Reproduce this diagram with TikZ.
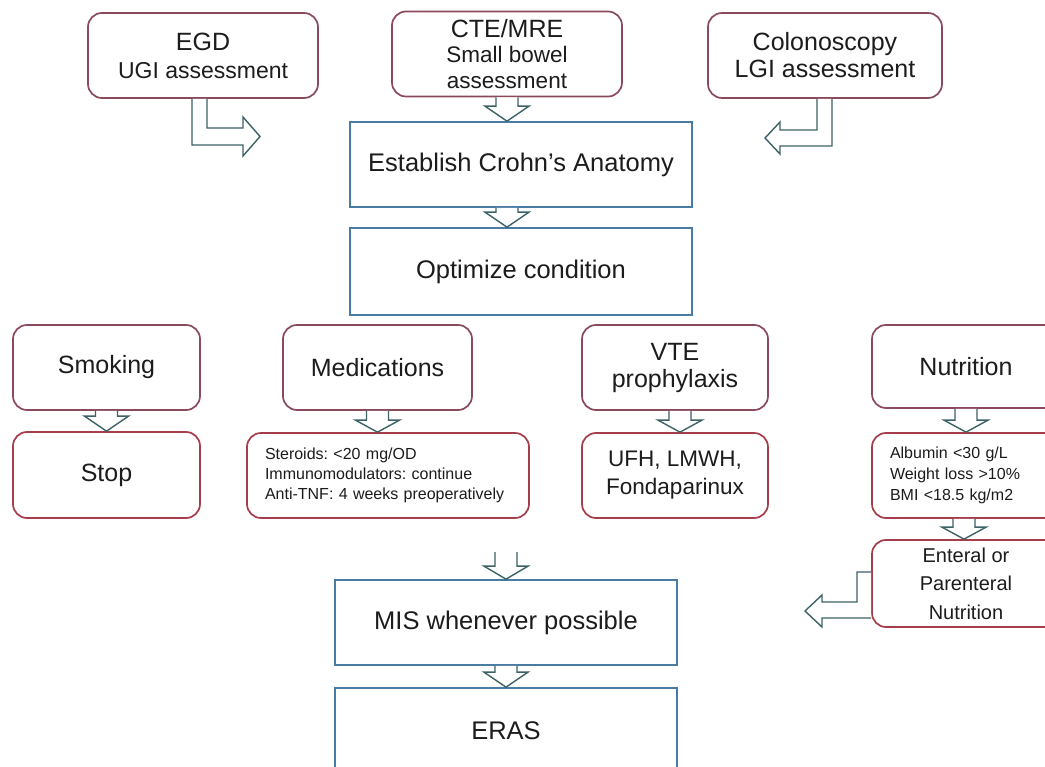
\documentclass[tikz,border=0pt]{standalone}
\usepackage{fontspec}
\setmainfont{Liberation Sans}
\usetikzlibrary{calc}
\frenchspacing
\definecolor{boxtop}{HTML}{8A4A5C}
\definecolor{boxred}{HTML}{A63D4A}
\definecolor{boxblue}{HTML}{4A7BA3}
\definecolor{arrowcol}{HTML}{3C6266}
\definecolor{txt}{HTML}{1C1C1C}
\newcommand\fs[2]{\fontsize{#1}{#2}\selectfont\frenchspacing}
\tikzset{
  rbox/.style={draw=boxtop, line width=1.7pt, rounded corners=14pt, fill=white, inner sep=0pt, align=center, text=txt, font=\fs{25}{30}},
  rboxred/.style={rbox, draw=boxred},
  sbox/.style={draw=boxblue, line width=1.7pt, fill=white, inner sep=0pt, align=center, text=txt, font=\fs{25.5}{30}},
  blockarrow/.style={draw=arrowcol, fill=white, line width=1.4pt, line join=miter},
}
% #1 x offset, #2 start point, #3 end point, #4 head length
\newcommand\dnarrow[4][0]{%
  \filldraw[blockarrow] let \p1=($(#2)+(#1,0)$), \p2=(#3) in
    (\x1-11pt,\y1) -- (\x1-11pt,\y2+#4pt) -- (\x1-22pt,\y2+#4pt) -- (\x1,\y2)
    -- (\x1+22pt,\y2+#4pt) -- (\x1+11pt,\y2+#4pt) -- (\x1+11pt,\y1);}
\begin{document}
\begin{tikzpicture}[x=1pt,y=-1pt]
\useasboundingbox (0,0) rectangle (1045,767);
\clip (0,0) rectangle (1045,767);
\fill[white] (0,0) rectangle (1045,767);

% top row
\node[rbox, font=\fs{25}{28}, minimum width=230pt, minimum height=85pt] (egd) at (203,55.5)
  {EGD\\\fs{23}{28}UGI assessment};
\node[rbox, font=\fs{22.5}{25.5}, minimum width=230pt, minimum height=85pt] (cte) at (507,54)
  {\fs{25}{25.5}CTE/MRE\\Small bowel\\assessment};
\node[rbox, font=\fs{25}{27}, minimum width=234pt, minimum height=85pt] (colon) at (825,55.5)
  {Colonoscopy\\LGI assessment};

% centre column
\node[sbox, minimum width=342pt, minimum height=85pt] (estab) at (521,164.5)
  {Establish Crohn’s Anatomy};
\node[sbox, minimum width=342pt, minimum height=87pt] (optim) at (521,271.5)
  {Optimize condition};

% factor row
\node[rbox, minimum width=187pt, minimum height=85pt] (smoking) at (106.5,367.5)
  {Smoking};
\node[rboxred, minimum width=187pt, minimum height=86pt] (stop) at (106.5,475)
  {Stop};
\node[rbox, minimum width=189pt, minimum height=85pt] (meds) at (377.5,367.5)
  {Medications};
\node[rboxred, font=\fs{16}{20}, minimum width=282pt, minimum height=85pt, align=left, text width=246pt] (medlist) at (388,475.5)
  {Steroids: <20 mg/OD\\Immunomodulators: continue\\Anti-TNF: 4 weeks preoperatively};
\node[rbox, font=\fs{25}{27}, minimum width=186pt, minimum height=85pt] (vte) at (675,367.5)
  {VTE\\prophylaxis};
\node[rboxred, font=\fs{22.5}{28}, minimum width=186pt, minimum height=85pt] (ufh) at (675,475.5)
  {UFH, LMWH,\\Fondaparinux};
\node[rbox, minimum width=188pt, minimum height=83pt] (nutr) at (966,366.5)
  {Nutrition};
\node[rboxred, font=\fs{16}{21}, minimum width=188pt, minimum height=85pt, align=left, text width=152pt] (alb) at (966,475.5)
  {Albumin <30 g/L\\Weight loss >10\%\\BMI <18.5 kg/m2};
\node[rboxred, font=\fs{20}{28.5}, minimum width=188pt, minimum height=87pt] (ent) at (966,583.5)
  {Enteral or\\Parenteral\\Nutrition};

% bottom column
\coordinate (misin) at (506,552);
\node[sbox, minimum width=342pt, minimum height=85pt] (mis) at (506,622.5)
  {MIS whenever possible};
\node[sbox, minimum width=342pt, minimum height=85pt] (eras) at (506,730.5)
  {ERAS};

% straight block arrows
\dnarrow{cte.south}{estab.north}{15}
\dnarrow[-14]{estab.south}{optim.north}{15}
\dnarrow{smoking.south}{stop.north}{15}
\dnarrow{meds.south}{medlist.north}{12}
\dnarrow[5]{vte.south}{ufh.north}{12}
\dnarrow{nutr.south}{alb.north}{12}
\dnarrow[-2]{alb.south}{ent.north}{12}
\dnarrow{misin}{mis.north}{13}
\dnarrow{mis.south}{eras.north}{15}

% bent block arrows
\filldraw[blockarrow] (192,0 |- egd.south) -- (192,145) -- (243,145) -- (243,156)
  -- (260,136.5) -- (243,117) -- (243,128) -- (207,128) -- (207,0 |- egd.south);
\filldraw[blockarrow] (832,0 |- colon.south) -- (832,146) -- (780,146) -- (780,154)
  -- (765,138) -- (780,122) -- (780,130) -- (817,130) -- (817,0 |- colon.south);
\filldraw[blockarrow] (ent.west |- 0,572) -- (857,572) -- (857,602) -- (822,602)
  -- (822,595) -- (805,611) -- (822,627) -- (822,618) -- (ent.west |- 0,618);
\end{tikzpicture}
\end{document}
